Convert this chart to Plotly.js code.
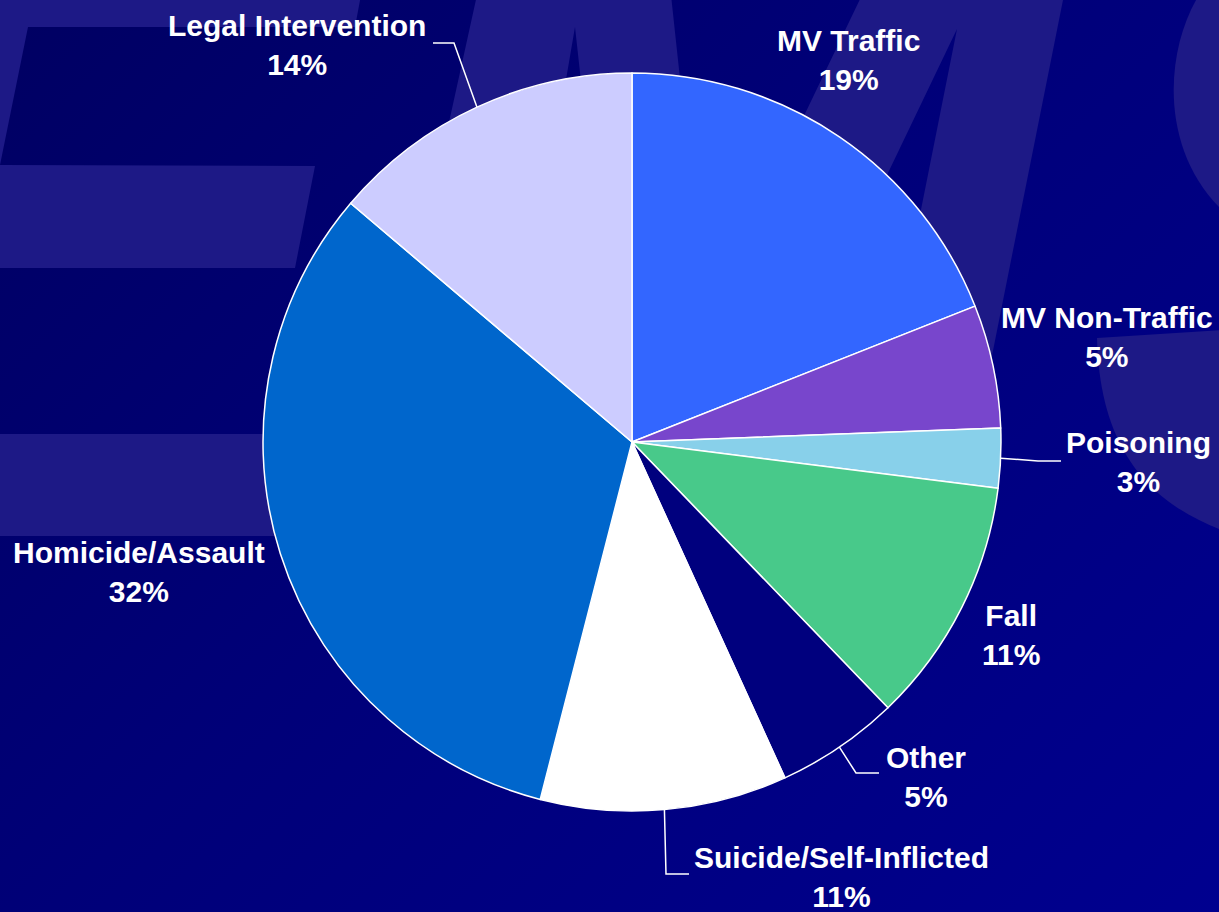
<!DOCTYPE html>
<html>
<head>
<meta charset="utf-8">
<script src="https://cdn.plot.ly/plotly-3.0.1.min.js"></script>
<style>
  html, body { margin: 0; padding: 0; }
  body { width: 1219px; height: 912px; overflow: hidden;
         background: linear-gradient(135deg, #000062 0%, #000078 45%, #00008f 100%); }
  #chart { width: 1219px; height: 912px; }
</style>
</head>
<body>
<div id="chart"></div>
<script>
// ---- data ----
const categories = ['MV Traffic', 'MV Non-Traffic', 'Poisoning', 'Fall', 'Other',
                    'Suicide/Self-Inflicted', 'Homicide/Assault', 'Legal Intervention'];
const shares = [19.0, 5.4, 2.6, 10.8, 5.4, 10.8, 32.2, 13.8];

// ---- styles ----
const sliceColors = ['#3366FF', '#7846CC', '#88D0EA', '#48C98A', '#00007E',
                     '#FFFFFF', '#0066CC', '#CCCCFF'];

const W = 1219, H = 912;
const px = p => p / W;
const py = p => 1 - p / H;

// pie geometry (layout)
const pieCx = 632, pieCy = 442, pieR = 369;
const domX = [px(pieCx - pieR), px(pieCx + pieR)];
const domY = [py(pieCy + pieR), py(pieCy - pieR)];

// label placements (layout, pixel centres of the text blocks)
const labelPos = [
  [848, 60], [1107, 337], [1138, 462], [1011, 635],
  [926, 777], [841, 877], [139, 572], [297, 45]
];
// leader lines: [elbow, end] for slices that have one (null otherwise)
const leaders = [
  null, null, [[1038, 461], [1061, 461]], null,
  [[856, 773], [879, 773]], [[666, 874], [689, 874]], null, [[454, 43], [433, 43]]
];

const total = shares.reduce((a, b) => a + b, 0);

const trace = {
  type: 'pie',
  labels: categories,
  values: shares,
  sort: false,
  direction: 'clockwise',
  rotation: 0,
  textinfo: 'none',
  hoverinfo: 'label+percent',
  marker: { colors: sliceColors, line: { color: '#FFFFFF', width: 1.5 } },
  domain: { x: domX, y: domY },
  showlegend: false
};

// background watermark (decoration)
function pathFrom(cmds) {
  return cmds.map(c => {
    if (c[0] === 'Z') return 'Z';
    const op = c[0];
    const pts = [];
    for (let i = 1; i < c.length; i += 2) pts.push(px(c[i]) + ',' + py(c[i + 1]));
    return op + pts.join(' ');
  }).join(' ');
}
const wmFill = '#1d1986';
const wmShapes = [
  // E
  [['M', -5, -5], ['L', 361, -5], ['L', 355, 27], ['L', 28, 27], ['L', 0, 165], ['L', 315, 166], ['L', 295, 268], ['L', -5, 268], ['Z']],
  [['M', -5, 434], ['L', 310, 434], ['L', 290, 536], ['L', -5, 536], ['Z']],
  // M
  [['M', 477, -5], ['L', 671, -5], ['L', 706, 320], ['L', 862, -5], ['L', 1064, -5], ['L', 956, 536],
   ['L', 856, 536], ['L', 957, 29], ['L', 714, 536], ['L', 631, 536], ['L', 575, 27],
   ['L', 488, 536], ['L', 358, 536], ['Z']],
  // S
  [['M', 1199, -5], ['C', 1165, 50, 1158, 150, 1224, 212], ['L', 1224, -5], ['Z']],
  [['M', 1097, 338], ['L', 1224, 330], ['L', 1224, 531], ['C', 1170, 510, 1100, 470, 1097, 338], ['Z']]
];
const shapes = wmShapes.map(s => ({
  type: 'path', xref: 'paper', yref: 'paper', layer: 'below',
  path: pathFrom(s), fillcolor: wmFill, line: { width: 0 }
}));

// labels and leader lines, anchored on slice mid-angles computed from the data
const annotations = [];
let cum = 0;
shares.forEach((v, i) => {
  const mid = (cum + v / 2) / total;
  cum += v;
  const th = mid * 2 * Math.PI;
  const ex = pieCx + pieR * Math.sin(th);
  const ey = pieCy - pieR * Math.cos(th);
  const pct = Math.round(v / total * 100) + '%';
  annotations.push({
    xref: 'paper', yref: 'paper',
    x: px(labelPos[i][0]), y: py(labelPos[i][1]),
    xanchor: 'center', yanchor: 'middle',
    text: '<b>' + categories[i] + '</b><br><b>' + pct + '</b>',
    showarrow: false, align: 'center',
    font: { family: 'Liberation Sans, Arial, sans-serif', size: 30, color: '#FFFFFF' }
  });
  if (leaders[i]) {
    const [el, en] = leaders[i];
    shapes.push({
      type: 'path', xref: 'paper', yref: 'paper', layer: 'above',
      path: 'M' + px(ex) + ',' + py(ey) + ' L' + px(el[0]) + ',' + py(el[1]) + ' L' + px(en[0]) + ',' + py(en[1]),
      line: { color: '#FFFFFF', width: 1.5 }
    });
  }
});

const layout = {
  width: W, height: H,
  margin: { l: 0, r: 0, t: 0, b: 0 },
  paper_bgcolor: 'rgba(0,0,0,0)',
  plot_bgcolor: 'rgba(0,0,0,0)',
  showlegend: false,
  shapes: shapes,
  annotations: annotations
};

Plotly.newPlot('chart', [trace], layout, { displayModeBar: false, staticPlot: true });
</script>
</body>
</html>
